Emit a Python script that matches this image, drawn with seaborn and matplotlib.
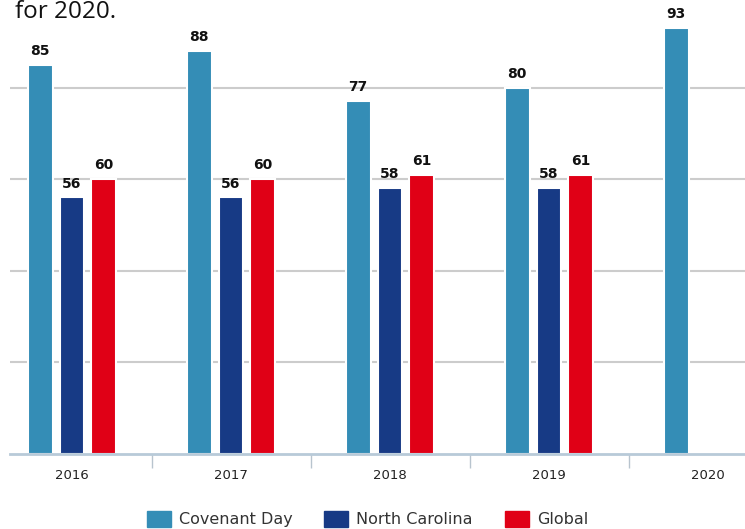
import matplotlib
matplotlib.use("Agg")
import matplotlib.pyplot as plt
import seaborn as sns
import pandas as pd
import numpy as np

years = ["2016", "2017", "2018", "2019", "2020"]
series_names = ["Covenant Day", "North Carolina", "Global"]
covenant_day = [85, 88, 77, 80, 93]
north_carolina = [56, 56, 58, 58, np.nan]
global_vals = [60, 60, 61, 61, np.nan]
colors = ["#348DB6", "#173A85", "#E00016"]

rows = []
for name, vals in zip(series_names, [covenant_day, north_carolina, global_vals]):
    for y, v in zip(years, vals):
        rows.append({"Year": y, "Series": name, "Value": v})
df = pd.DataFrame(rows)

sns.set_theme(style="white")
plt.rcParams["font.family"] = ["DejaVu Sans"]

W, H = 745, 529
fig = plt.figure(figsize=(W / 100, H / 100), dpi=100)
ax = fig.add_axes([10 / W, 75 / H, 735 / W, 454 / H])

sns.barplot(data=df, x="Year", y="Value", hue="Series", hue_order=series_names,
            order=years, palette=colors, width=0.6, gap=0.22, ax=ax,
            edgecolor="white", linewidth=1.5, saturation=1, legend=True, zorder=3)

for c in ax.containers:
    labels = ["" if np.isnan(v) else f"{int(v)}" for v in c.datavalues]
    ax.bar_label(c, labels=labels, padding=5, fontsize=10, fontweight="bold",
                 color="#111111")

ax.set_ylim(0, 99.1)
ax.set_xlim((10 - 72) / 159, (745 - 72) / 159)
ax.set_yticks([20, 40, 60, 80])
ax.yaxis.grid(True, color="#CCCCCC", linewidth=1.5, zorder=0)
ax.set_axisbelow(True)
ax.tick_params(axis="y", left=False, labelleft=False)
ax.set_xlabel("")
ax.set_ylabel("")
for s in ["top", "left", "right"]:
    ax.spines[s].set_visible(False)
ax.spines["bottom"].set_color("#B8CAD8")
ax.spines["bottom"].set_linewidth(2)
ax.spines["bottom"].set_zorder(4)

ax.set_xticks(range(len(years)))
ax.set_xticklabels(years)
ax.set_xticks([0.5, 1.5, 2.5, 3.5], minor=True)
ax.tick_params(axis="x", which="major", length=0, pad=11, labelsize=9.5,
               labelcolor="#222222")
ax.tick_params(axis="x", which="minor", length=10, width=1, color="#B8C4CE",
               direction="out", bottom=True)

ax.get_legend().remove()
handles = [plt.Rectangle((0, 0), 1, 1, color=c) for c in colors]
fig.legend(handles, series_names, loc="center", bbox_to_anchor=(0.493, 10 / H),
           ncol=3, frameon=False, fontsize=11.5, handlelength=1.5,
           handleheight=1.2, columnspacing=2.0, handletextpad=0.5,
           labelcolor="#333333")

fig.text(15 / W, (H - 18) / H, "for 2020.", fontsize=17.5, color="#111111",
         va="baseline", ha="left", family=["Open Sans", "DejaVu Sans"])

fig.savefig("out.png", dpi=100)
